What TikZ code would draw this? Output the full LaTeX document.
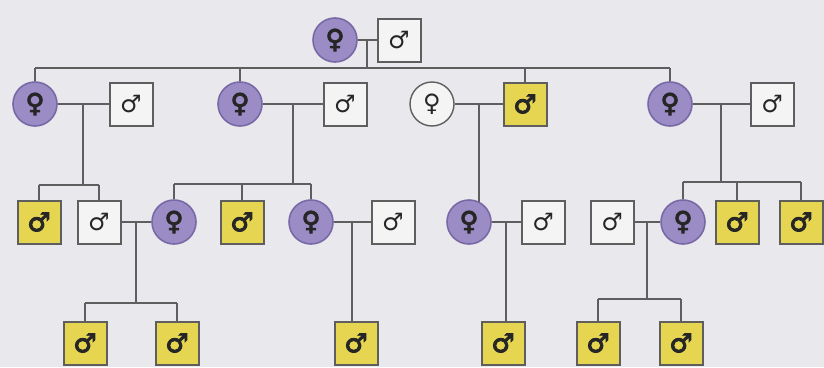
\documentclass[tikz,border=0pt]{standalone}
\usepackage{fontspec}
\newfontfamily\symf{DejaVu Sans}
\newfontfamily\symb{DejaVu Sans Bold}[FakeBold=3.5]
\usetikzlibrary{backgrounds,calc}
\definecolor{bg}{HTML}{E9E9ED}
\definecolor{purp}{HTML}{9C8CC6}
\definecolor{purpd}{HTML}{7868A6}
\definecolor{yel}{HTML}{E5D550}
\definecolor{ln}{HTML}{5E5E5E}
\definecolor{ink}{HTML}{262626}
\definecolor{wfill}{HTML}{F4F4F4}
\begin{document}
\begin{tikzpicture}[x=1pt,y=-1pt,
  fem/.style={circle, minimum size=44pt, inner sep=0pt, fill=purp, draw=purpd, line width=1.6pt,
    text=ink, font=\symb\fontsize{26}{26}\selectfont},
  femw/.style={circle, minimum size=44pt, inner sep=0pt, fill=wfill, draw=ln, line width=1.4pt,
    text=ink, font=\symf\fontsize{24}{24}\selectfont},
  malw/.style={rectangle, minimum size=43pt, inner sep=0pt, fill=wfill, draw=ln, line width=2pt,
    text=ink, font=\symf\fontsize{24}{24}\selectfont},
  maly/.style={rectangle, minimum size=43pt, inner sep=0pt, fill=yel, draw=ln, line width=2pt,
    text=ink, font=\symb\fontsize{26}{26}\selectfont},
  conn/.style={draw=ln, line width=1.8pt}
]
\useasboundingbox (0,0) rectangle (824,367);
% row 1
\node[fem]  (F0) at (335,40) {♀};
\node[malw] (M0) at (399,40) {♂};
% row 2
\node[fem]  (F1) at (35,104)  {♀};
\node[malw] (M1) at (131,104) {♂};
\node[fem]  (F2) at (240,104) {♀};
\node[malw] (M2) at (345,104) {♂};
\node[femw] (F3) at (432,104) {♀};
\node[maly] (M3) at (525,104) {♂};
\node[fem]  (F4) at (670,104) {♀};
\node[malw] (M4) at (772,104) {♂};
% row 3
\node[maly] (Y1) at (39,222)  {♂};
\node[malw] (W1) at (99,222)  {♂};
\node[fem]  (F5) at (174,222) {♀};
\node[maly] (Y2) at (242,222) {♂};
\node[fem]  (F6) at (311,222) {♀};
\node[malw] (M6) at (393,222) {♂};
\node[fem]  (F7) at (469,222) {♀};
\node[malw] (M7) at (543,222) {♂};
\node[malw] (W8) at (612,222) {♂};
\node[fem]  (F8) at (683,222) {♀};
\node[maly] (Y3) at (737,222) {♂};
\node[maly] (Y4) at (801,222) {♂};
% row 4
\node[maly] (Y9)  at (85,343)  {♂};
\node[maly] (Y10) at (177,343) {♂};
\node[maly] (Y5)  at (356,343) {♂};
\node[maly] (Y6)  at (503,343) {♂};
\node[maly] (Y7)  at (598,343) {♂};
\node[maly] (Y8)  at (681,343) {♂};
\begin{scope}[on background layer]
  \fill[bg] (0,0) rectangle (824,367);
  % couples
  \foreach \a/\b/\c in {F0/M0/c0,F1/M1/c1,F2/M2/c2,F3/M3/c3,F4/M4/c4,W1/F5/c5,F6/M6/c6,F7/M7/c7,W8/F8/c8}{
    \draw[conn] (\a) -- (\b);
    \coordinate (\c) at ($(\a.east)!.5!(\b.west)$);
  }
  % sibship levels
  \coordinate (s0) at (0,68);
  \coordinate (s1) at (0,185);
  \coordinate (s2) at (0,184);
  \coordinate (s4) at (0,182);
  \coordinate (s5) at (0,303);
  \coordinate (s8) at (0,299);
  % generation 1 -> 2
  \draw[conn] (c0) -- (c0 |- s0);
  \draw[conn] (F1 |- s0) -- (F4 |- s0);
  \foreach \n in {F1,F2,M3,F4} \draw[conn] (\n |- s0) -- (\n);
  % F1 family
  \draw[conn] (c1) -- (c1 |- s1);
  \draw[conn] (Y1 |- s1) -- (W1 |- s1);
  \foreach \n in {Y1,W1} \draw[conn] (\n |- s1) -- (\n);
  % F2 family
  \draw[conn] (c2) -- (c2 |- s2);
  \draw[conn] (F5 |- s2) -- (F6 |- s2);
  \foreach \n in {F5,Y2,F6} \draw[conn] (\n |- s2) -- (\n);
  % F3 family
  \draw[conn] (c3) -- (c3 |- F7);
  % F4 family
  \draw[conn] (c4) -- (c4 |- s4);
  \draw[conn] (F8 |- s4) -- (Y4 |- s4);
  \foreach \n in {F8,Y3,Y4} \draw[conn] (\n |- s4) -- (\n);
  % generation 3 -> 4
  \draw[conn] (c5) -- (c5 |- s5);
  \draw[conn] (Y9 |- s5) -- (Y10 |- s5);
  \foreach \n in {Y9,Y10} \draw[conn] (\n |- s5) -- (\n);
  \draw[conn] (c6) -- (c6 |- Y5);
  \draw[conn] (c7) -- (c7 |- Y6);
  \draw[conn] (c8) -- (c8 |- s8);
  \draw[conn] (Y7 |- s8) -- (Y8 |- s8);
  \foreach \n in {Y7,Y8} \draw[conn] (\n |- s8) -- (\n);
\end{scope}
\end{tikzpicture}
\end{document}
